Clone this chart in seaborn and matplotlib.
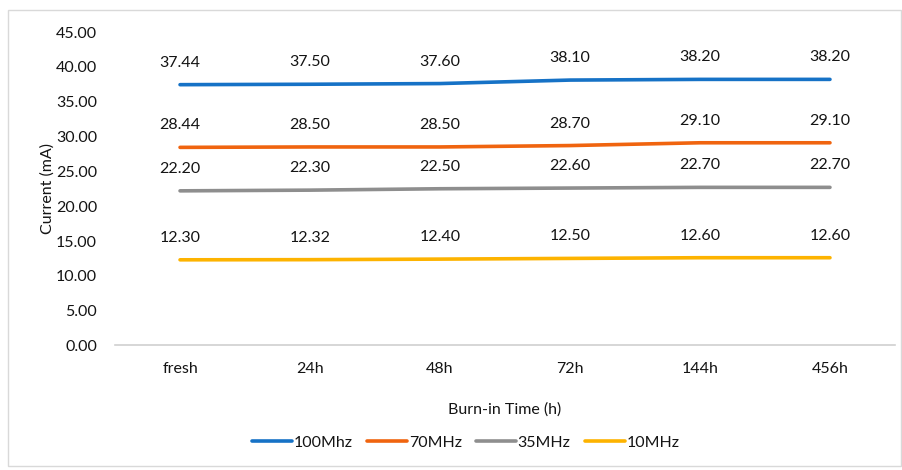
import matplotlib
matplotlib.use("Agg")
import matplotlib.pyplot as plt
import seaborn as sns
import pandas as pd
from matplotlib.patches import Rectangle

# Burn-in supply current measurements
times = ["fresh", "24h", "48h", "72h", "144h", "456h"]
series_names = ["100Mhz", "70MHz", "35MHz", "10MHz"]
current_100 = [37.44, 37.50, 37.60, 38.10, 38.20, 38.20]
current_70 = [28.44, 28.50, 28.50, 28.70, 29.10, 29.10]
current_35 = [22.20, 22.30, 22.50, 22.60, 22.70, 22.70]
current_10 = [12.30, 12.32, 12.40, 12.50, 12.60, 12.60]
y_ticks = [0, 5, 10, 15, 20, 25, 30, 35, 40, 45]

colors = ["#1672C6", "#F0640F", "#8E8E8E", "#FDB300"]
text_color = "#141414"
fs = 11.5

sns.set_theme(style="white")
plt.rcParams["font.family"] = ["Lato", "DejaVu Sans"]

values = [current_100, current_70, current_35, current_10]
frames = []
for name, vals in zip(series_names, values):
    frames.append(pd.DataFrame({"time": times, "current": vals, "series": name}))
df = pd.concat(frames, ignore_index=True)

fig = plt.figure(figsize=(9.03, 4.70), dpi=100)
ax = fig.add_axes([0.1274, 0.2649, 0.8637, 0.6670])

sns.lineplot(data=df, x="time", y="current", hue="series",
             hue_order=series_names, palette=colors, linewidth=2.6,
             sort=False, ax=ax, legend=False)

# value labels above each point
for name, vals in zip(series_names, values):
    for i, v in enumerate(vals):
        ax.annotate(f"{v:.2f}", (i, v), xytext=(0, 22), textcoords="offset pixels",
                    ha="center", va="center", fontsize=fs, color=text_color)

ax.set_xlim(-0.5, len(times) - 0.5)
ax.set_ylim(0, 45)
ax.set_yticks(y_ticks)
ax.set_yticklabels([f"{t:.2f}" for t in y_ticks])
ax.tick_params(axis="both", length=0, labelsize=fs, labelcolor=text_color)
ax.tick_params(axis="y", pad=13)
ax.tick_params(axis="x", pad=12)

for side in ["top", "right", "left"]:
    ax.spines[side].set_visible(False)
ax.spines["bottom"].set_color("#d0d0d0")
ax.spines["bottom"].set_linewidth(1.2)

ax.set_ylabel("Current (mA)", fontsize=fs, color=text_color)
ax.set_xlabel("Burn-in Time (h)", fontsize=fs, color=text_color, labelpad=19)
ax.yaxis.set_label_coords(-0.077, 0.5)

handles = [plt.Line2D([], [], color=c, linewidth=2.6) for c in colors]
fig.legend(handles, series_names, loc="center", bbox_to_anchor=(0.516, 0.058),
           ncol=4, frameon=False, fontsize=fs, handlelength=2.5,
           handletextpad=0.1, columnspacing=0.9, labelcolor=text_color)

# outer chart border
fig.patches.append(Rectangle((8 / 903, 4 / 470), 893 / 903, 456 / 470,
                             transform=fig.transFigure, fill=False,
                             edgecolor="#d9d9d9", linewidth=1.0))

fig.savefig("out.png", dpi=100)
